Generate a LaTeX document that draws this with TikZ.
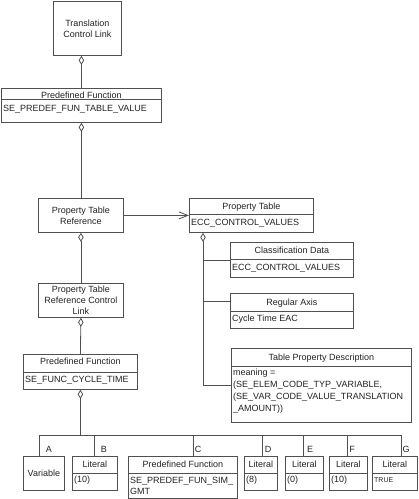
\documentclass[tikz,border=0pt]{standalone}
\usepackage{fontspec}
\setmainfont{Liberation Sans}
\usetikzlibrary{arrows.meta}

\definecolor{linegray}{HTML}{505050}
\definecolor{textgray}{HTML}{222222}

\tikzset{
	box/.style={draw=linegray, line width=0.8pt, inner sep=0pt, anchor=north west, font=\fontsize{9}{11}\selectfont, text=textgray, align=center},
	title/.style={font=\fontsize{9}{11}\selectfont, text=textgray, inner sep=0pt, anchor=base},
	attr/.style={font=\fontsize{9}{11.7}\selectfont, text=textgray, inner sep=0pt, anchor=base west, align=left},
	link/.style={draw=linegray, line width=0.8pt},
	agg/.style={link, {Diamond[open, length=9pt, width=5.5pt]}-},
	nav/.style={link, -{Straight Barb[length=9pt, width=7pt]}},
}

\begin{document}
\begin{tikzpicture}[x=1pt, y=-1pt]
		\useasboundingbox (0,0) rectangle (419,499);

		% left chain
		\node[box, minimum width=68pt, minimum height=54pt] (tcl) at (53,1) {Translation\\Control Link};

		\node[box, minimum width=160pt, minimum height=34pt] (pf1) at (1,88) {};
		\draw[link] ([yshift=-11pt]pf1.north west) -- ([yshift=-11pt]pf1.north east);
		\node[title] at ([yshift=-10pt]pf1.north) {Predefined Function};
		\node[attr] at ([xshift=2pt, yshift=-23pt]pf1.north west) {SE\_PREDEF\_FUN\_TABLE\_VALUE};

		\node[box, minimum width=85pt, minimum height=34pt] (ptr) at (38,198) {Property Table\\Reference};
		\node[box, minimum width=85pt, minimum height=34pt] (ptrcl) at (38,283) {Property Table\\Reference Control\\Link};

		\node[box, minimum width=114pt, minimum height=35pt] (pf2) at (23,354) {};
		\draw[link] ([yshift=-18pt]pf2.north west) -- ([yshift=-18pt]pf2.north east);
		\node[title] at ([yshift=-10.5pt]pf2.north) {Predefined Function};
		\node[attr] at ([xshift=2pt, yshift=-28pt]pf2.north west) {SE\_FUNC\_CYCLE\_TIME};

		% property table side
		\node[box, minimum width=124pt, minimum height=34pt] (pt) at (189,198) {};
		\draw[link] ([yshift=-16pt]pt.north west) -- ([yshift=-16pt]pt.north east);
		\node[title] at ([yshift=-11pt]pt.north) {Property Table};
		\node[attr] at ([xshift=2pt, yshift=-27pt]pt.north west) {ECC\_CONTROL\_VALUES};

		\node[box, minimum width=123pt, minimum height=35pt] (cd) at (230,242) {};
		\draw[link] ([yshift=-17pt]cd.north west) -- ([yshift=-17pt]cd.north east);
		\node[title] at ([yshift=-11pt]cd.north) {Classification Data};
		\node[attr] at ([xshift=2pt, yshift=-28pt]cd.north west) {ECC\_CONTROL\_VALUES};

		\node[box, minimum width=123pt, minimum height=35pt] (ra) at (230,293) {};
		\draw[link] ([yshift=-18pt]ra.north west) -- ([yshift=-18pt]ra.north east);
		\node[title] at ([yshift=-12pt]ra.north) {Regular Axis};
		\node[attr] at ([xshift=2pt, yshift=-28pt]ra.north west) {Cycle Time EAC};

		% multi-line texts sit on the baseline of their last line
		\node[box, minimum width=180pt, minimum height=74pt] (tpd) at (231,348) {};
		\draw[link] ([yshift=-18.5pt]tpd.north west) -- ([yshift=-18.5pt]tpd.north east);
		\node[title] at ([yshift=-12pt]tpd.north) {Table Property Description};
		\node[attr] at ([xshift=2pt, yshift=-63pt]tpd.north west) {meaning =\\(SE\_ELEM\_CODE\_TYP\_VARIABLE,\\(SE\_VAR\_CODE\_VALUE\_TRANSLATION\\\_AMOUNT))};

		% links
		\draw[agg] (tcl.south -| pf1.north) -- (pf1.north);
		\draw[agg] (pf1.south) -- (pf1.south |- ptr.north);
		\draw[nav] (ptr.east) -- (ptr.east -| pt.west);
		\draw[agg] (ptr.south) -- (ptrcl.north);
		\draw[agg] (ptrcl.south) -- (pf2.north);

		\coordinate (ptroot) at ([xshift=14pt]pt.south west);
		\coordinate (rajoin) at ([yshift=-8pt]ra.north west);
		\draw[agg] (ptroot) |- (tpd.west);
		\draw[link] (ptroot |- cd.west) -- (cd.west);
		\draw[link] (ptroot |- rajoin) -- (rajoin);

		% arguments of the cycle time function
		\coordinate (busA) at (39,435);
		\coordinate (busG) at (401,435);
		\draw[agg] (pf2.south) -- (pf2.south |- busA);
		\draw[link] (busA) -- (busG);

		\node[box, minimum width=41pt, minimum height=34pt] (var) at (23,456) {Variable};
		\draw[link] (busA) -- (busA |- var.north);
		\node[title] at (49,452.5) {A};

		\node[box, minimum width=109pt, minimum height=42pt] (pfC) at (128,456) {};
		\draw[link] ([yshift=-17pt]pfC.north west) -- ([yshift=-17pt]pfC.north east);
		\node[title] at ([yshift=-11pt]pfC.north) {Predefined Function};
		\node[attr, font=\fontsize{9}{11}\selectfont] at ([xshift=2pt, yshift=-38pt]pfC.north west) {SE\_PREDEF\_FUN\_SIM\_\\GMT};
		\coordinate (dropC) at (193,435);
		\draw[link] (dropC) -- (dropC |- pfC.north);
		\node[title] at (198,452.5) {C};

		\foreach \n/\dx/\bx/\w/\lx/\val in {B/94/72/45/104/(10), D/262/244/33/268/(8), E/303/285/38/310/(0), F/347/329/38/352/(10), G/401/372/45/406/{\fontsize{7}{8}\selectfont TRUE}} {
			\node[box, minimum width=\w*1pt, minimum height=34pt] (lit\n) at (\bx,456) {};
			\draw[link] ([yshift=-17pt]lit\n.north west) -- ([yshift=-17pt]lit\n.north east);
			\node[title] at ([yshift=-11pt]lit\n.north) {Literal};
			\node[attr] at ([xshift=2pt, yshift=-26pt]lit\n.north west) {\val};
			\coordinate (drop\n) at (\dx,435);
			\draw[link] (drop\n) -- (drop\n |- lit\n.north);
			\node[title] at (\lx,452.5) {\n};
		}
\end{tikzpicture}
\end{document}
